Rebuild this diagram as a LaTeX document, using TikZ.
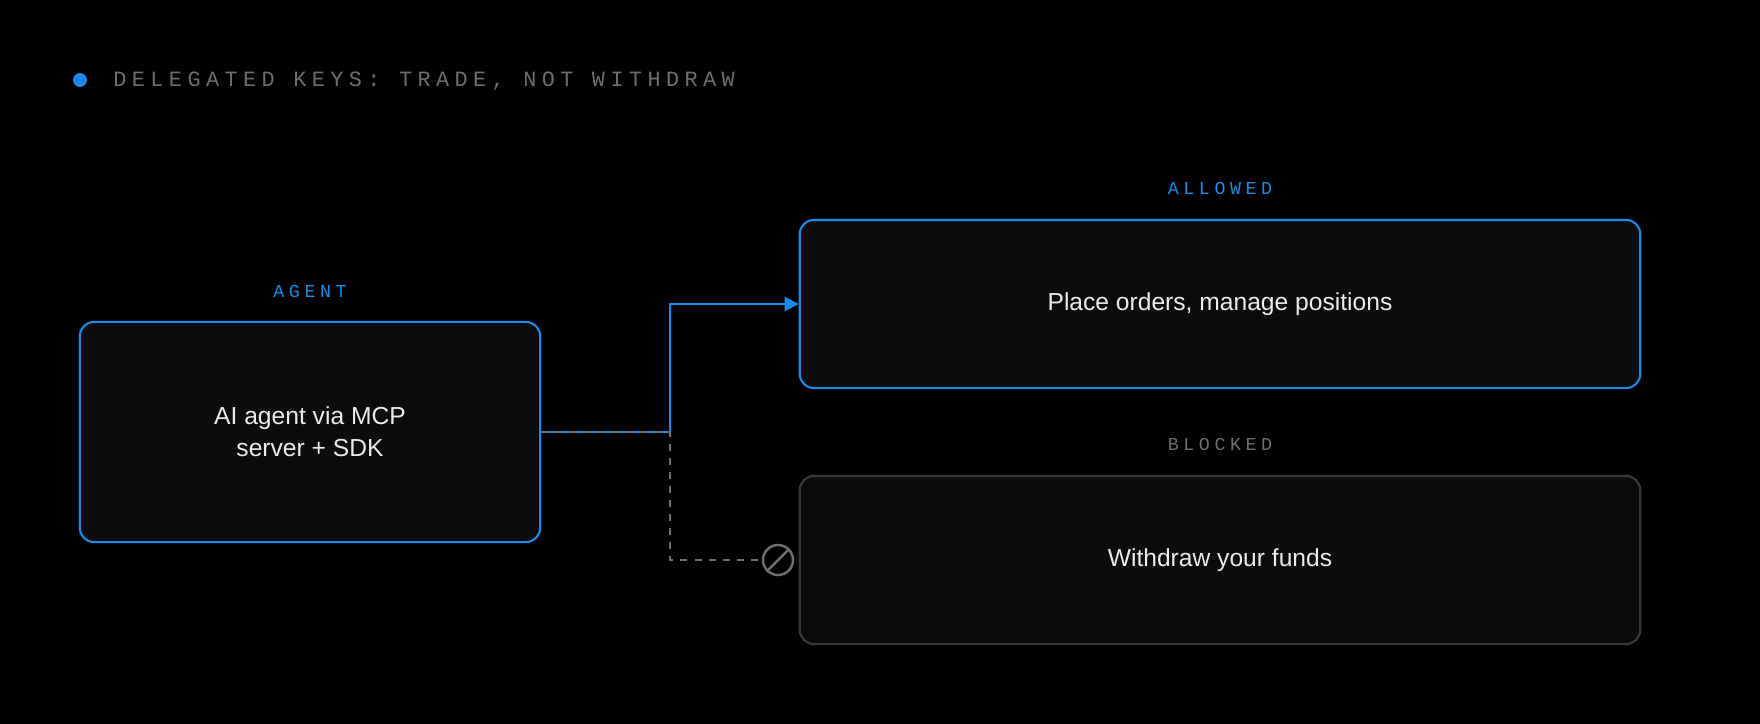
\documentclass[tikz,border=0pt]{standalone}
\usepackage{fontspec}
\setmainfont{Liberation Sans}
\newfontfamily\monofont[LetterSpace=25]{Liberation Mono}
\usetikzlibrary{positioning,arrows.meta}
\definecolor{bluec}{HTML}{1A8CE8}
\definecolor{boxfill}{HTML}{0C0C0C}
\definecolor{grayc}{HTML}{6E6E6E}
\definecolor{blockc}{HTML}{3A3A3A}
\begin{document}
\begin{tikzpicture}[x=0.01cm,y=-0.01cm,thick]
\tikzstyle{bx}=[draw=bluec,fill=boxfill,rounded corners=4pt,line width=0.6pt,text=white!92!black,font=\fontsize{7}{9}\selectfont,align=center,inner sep=0pt]
\tikzstyle{tag}=[font=\monofont\fontsize{5.2}{6}\selectfont,inner sep=0pt]
\fill[black] (0,0) rectangle (1760,724);
\fill[bluec] (80,80) circle (7);
\node[tag,anchor=west,text=grayc,font=\monofont\fontsize{6.2}{7}\selectfont] (title) at (112,81) {DELEGATED KEYS: TRADE, NOT WITHDRAW};
\node[bx,minimum width=4.6cm,minimum height=2.2cm] (agent) at (310,432) {AI agent via MCP\\server + SDK};
\node[bx,minimum width=8.4cm,minimum height=1.68cm] (allow) at (1220,304) {Place orders, manage positions};
\node[bx,draw=blockc,minimum width=8.4cm,minimum height=1.68cm] (block) at (1220,560) {Withdraw your funds};
\node[tag,text=bluec]  at (310,291) {AGENT};
\node[tag,text=bluec]  at (1220,188) {ALLOWED};
\node[tag,text=grayc]  at (1220,444) {BLOCKED};
\coordinate (split) at (670,432);
\node[draw=grayc,circle,minimum size=0.3cm,inner sep=0pt,line width=0.7pt] (stop) at (778,560) {};
\draw[grayc,line width=0.7pt] (stop.45) -- (stop.225);
\draw[bluec,line width=0.7pt,-{Triangle[length=4pt,width=4pt]}] (agent.east) -- (split) |- (allow.west);
\draw[grayc,line width=0.6pt,dash pattern=on 2pt off 2pt] (agent.east) -- (split) |- (stop.west);
\end{tikzpicture}
\end{document}
